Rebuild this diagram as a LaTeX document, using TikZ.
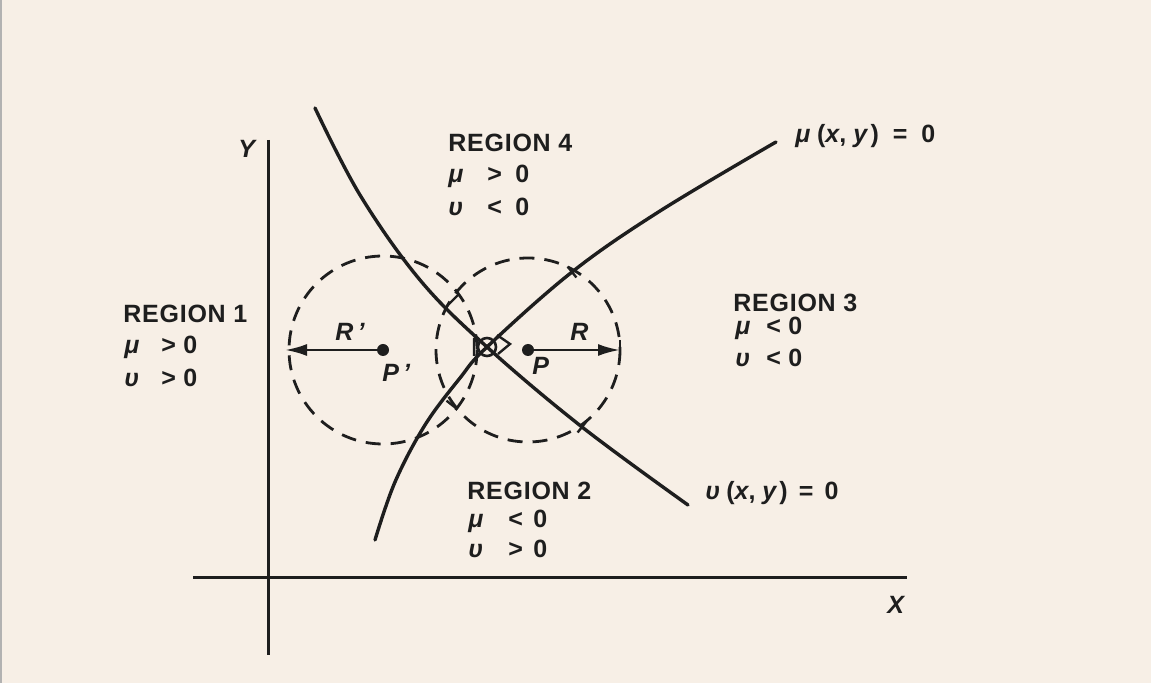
\documentclass[tikz,border=0pt]{standalone}
\usepackage{fontspec}
\setmainfont{Liberation Sans}
\usetikzlibrary{arrows.meta}
\definecolor{paper}{HTML}{F7EFE6}
\definecolor{ink}{HTML}{1E1E1E}
\newcommand\labfont{\fontsize{12.5}{14}\selectfont\bfseries}
\newcommand\gmu{\textit{μ}}
\newcommand\gnu{\textit{υ}}
\tikzset{
  curveline/.style={ink, line width=1.7pt, line cap=round},
  axisline/.style={ink, line width=1.5pt},
  dcirc/.style={ink, line width=1.4pt, dash pattern=on 7.5pt off 5pt},
  tickline/.style={ink, line width=1.2pt},
  arrowline/.style={ink, line width=1.3pt, -{Latex[length=11pt,width=6pt]}},
  lbl/.style={inner sep=0pt, anchor=base west, text=ink, font=\labfont},
  ilbl/.style={lbl, font=\labfont\itshape},
  head/.style={lbl, font=\labfont\addfontfeature{LetterSpace=3}},
  dotc/.style={ink, fill=ink},
}
\newcommand\trio[7]{%
  \node[lbl] (#1s) at (#3,#2) {#4};
  \node[lbl] (#1r) at (#5,#2) {#6};
  \node[lbl] (#1z) at (#7,#2) {0};}
\begin{document}
\begin{tikzpicture}[x=0.5pt,y=-0.5pt]
\fill[paper] (0,0) rectangle (1151,683);
\useasboundingbox (0,0) rectangle (1151,683);
\draw[gray!60, line width=1pt] (0.5,0) -- (0.5,683);

% axes
\coordinate (ytop) at (268,140);
\coordinate (ybot) at (268,655);
\coordinate (xl) at (193,578);
\coordinate (xr) at (907,578);
\draw[axisline] (ytop) -- (ybot);
\draw[axisline] (xl) -- (xr);
\node[ilbl] (ylab) at (238,158) {Y};
\node[ilbl] (xlab) at (887,613) {X};

% centres
\coordinate (Pp) at (383,350);
\coordinate (P) at (528,350);
\coordinate (O) at (487,347);

% dashed circles
\draw[dcirc] (Pp) circle[radius=94];
\draw[dcirc] (P) circle[radius=92];

% curves
\draw[curveline] plot[smooth, tension=0.6] coordinates
  {(375,540) (395,482) (425,425) (460,378) (487,347) (572,272) (660,211) (776,142)};
\draw[curveline] plot[smooth, tension=0.6] coordinates
  {(315,108) (360,195) (420,280) (487,347) (582,427) (688,505)};

% crossing ticks
\draw[tickline] (447,306) -- (459,294);
\draw[tickline] (446.5,400.7) -- (457.5,409.3);
\draw[tickline] (567.6,266.5) -- (576.4,277.5);
\draw[tickline] (577.6,432.5) -- (586.4,421.5);

% intersection marker
\draw[ink, line width=1.3pt] (O) circle[radius=9];
\draw[ink, line width=1.2pt] (497,335) -- (510,344) -- (498,354);
\draw[ink, line width=1.2pt] (476,337) -- (474,339) -- (474,356);

% radii arrows
\coordinate (Rpend) at (285,350);
\coordinate (Rend) at (620,350);
\draw[arrowline] (Pp) -- (Rpend);
\draw[arrowline] (P) -- (Rend);
\draw[ink, line width=1.3pt] (620,340) -- (620,360);
\fill[dotc] (Pp) circle[radius=6];
\fill[dotc] (P) circle[radius=6];
\node[ilbl] (Rplab) at (335,341) {R\,'};
\node[ilbl] (Pplab) at (382,382) {P\,'};
\node[ilbl] (Rlab) at (570,341) {R};
\node[ilbl] (Plab) at (532,375) {P};

% region 1
\node[head] (r1) at (123,323) {REGION 1};
\trio{ra}{354}{124}{\gmu}{161}{>}{183}
\trio{rb}{387}{124}{\gnu}{161}{>}{183}
% region 4
\node[head] (r4) at (448,152) {REGION 4};
\trio{rc}{183}{448}{\gmu}{487}{>}{515}
\trio{rd}{216}{448}{\gnu}{487}{<}{515}
% region 3
\node[head] (r3) at (733,312) {REGION 3};
\trio{re}{335}{735}{\gmu}{766}{<}{788}
\trio{rf}{367}{735}{\gnu}{766}{<}{788}
% region 2
\node[head] (r2) at (467,500) {REGION 2};
\trio{rg}{528}{468}{\gmu}{508}{<}{533}
\trio{rh}{558}{468}{\gnu}{508}{>}{533}

% curve labels
\node[lbl, font=\labfont\addfontfeature{LetterSpace=10}] (mulab) at (795,143)
  {\gmu\,(\textit{x},\;\textit{y})\;\;=\;\;0};
\node[lbl, font=\labfont\addfontfeature{LetterSpace=8}] (nulab) at (705,500)
  {\gnu\,(\textit{x},\;\textit{y})\;\,=\;\,0};
\end{tikzpicture}
\end{document}
